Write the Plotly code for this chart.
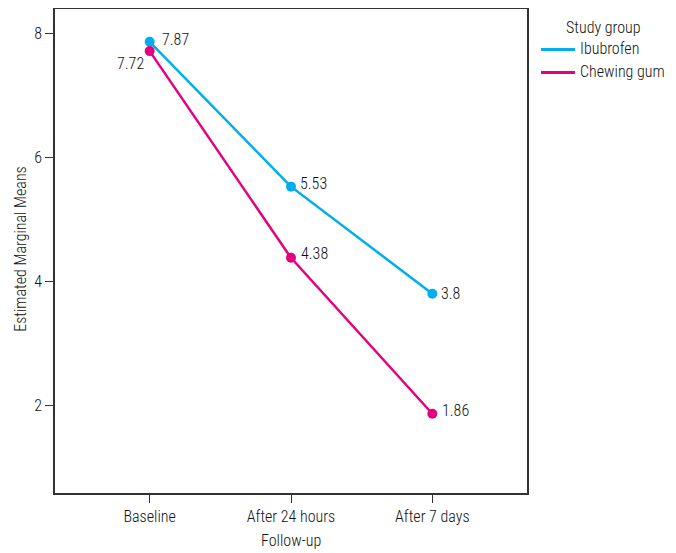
import plotly.graph_objects as go

categories = ["Baseline", "After 24 hours", "After 7 days"]
ibuprofen = [7.87, 5.53, 3.8]
chewing_gum = [7.72, 4.38, 1.86]
ibu_labels = ["7.87", "5.53", "3.8"]
gum_labels = ["7.72", "4.38", "1.86"]
y_ticks = [2, 4, 6, 8]
series_names = ["Ibubrofen", "Chewing gum"]

BLUE = "#00AEEF"
PINK = "#E5007E"
FONT = "Roboto Condensed, Liberation Sans Narrow, Arial Narrow, sans-serif"
TXT = "#111111"
FS = 16
FW = 300

def f():
    return dict(family=FONT, size=FS, color=TXT, weight=FW)

xs = list(range(len(categories)))

fig = go.Figure()
fig.add_trace(go.Scatter(
    x=xs, y=ibuprofen, mode="lines+markers", name=series_names[0],
    line=dict(color=BLUE, width=2.5), marker=dict(color=BLUE, size=10), showlegend=False))
fig.add_trace(go.Scatter(
    x=xs, y=chewing_gum, mode="lines+markers", name=series_names[1],
    line=dict(color=PINK, width=2.5), marker=dict(color=PINK, size=10), showlegend=False))

# page body has an 8px margin; screen coords are offset by OFF
OFF = 8
W, H = 676 - OFF, 553 - OFF
L, R, T, B = 54.5 - OFF, 527 - OFF, 8.5 - OFF, 493 - OFF
pw, ph = R - L, B - T
def px(x): return (x - OFF - L) / pw
def py(y): return (B - (y - OFF)) / ph

shapes = []
annotations = []

# data labels
ibu_shift = [(10, 2), (7, 3), (7, 0)]
gum_shift = [(-4, -12), (8, 4), (8, 3)]
for x, y, t, (dx, dy) in zip(xs, ibuprofen, ibu_labels, ibu_shift):
    annotations.append(dict(x=x, y=y, xref="x", yref="y", text=t, showarrow=False,
                            xanchor="left", yanchor="middle", xshift=dx, yshift=dy, font=f()))
for i, (x, y, t, (dx, dy)) in enumerate(zip(xs, chewing_gum, gum_labels, gum_shift)):
    annotations.append(dict(x=x, y=y, xref="x", yref="y", text=t, showarrow=False,
                            xanchor="right" if i == 0 else "left", yanchor="middle",
                            xshift=dx, yshift=dy, font=f()))

# axis titles
annotations.append(dict(x=0.5, y=py(541), xref="paper", yref="paper", text="Follow-up",
                        showarrow=False, xanchor="center", yanchor="middle", font=f()))
annotations.append(dict(x=px(20), y=py(249), xref="paper", yref="paper", text="Estimated Marginal Means",
                        showarrow=False, xanchor="center", yanchor="middle", textangle=-90, font=f()))

# legend
annotations.append(dict(x=px(604), y=py(27), xref="paper", yref="paper", text="Study group",
                        showarrow=False, xanchor="center", yanchor="middle", font=f()))
for i, (nm, col) in enumerate(zip(series_names, [BLUE, PINK])):
    yy = 49 + i * 23
    shapes.append(dict(type="line", xref="paper", yref="paper", x0=px(541), x1=px(575),
                       y0=py(yy), y1=py(yy), line=dict(color=col, width=3)))
    annotations.append(dict(x=px(578), y=py(yy - 1), xref="paper", yref="paper", text=nm,
                            showarrow=False, xanchor="left", yanchor="middle", font=f()))

fig.update_layout(
    width=W, height=H, margin=dict(l=L, r=W - R, t=T, b=H - B, pad=0, autoexpand=False),
    paper_bgcolor="white", plot_bgcolor="white",
    font=f(),
    shapes=shapes, annotations=annotations, showlegend=False,
    xaxis=dict(range=[-0.67, 2.67], tickvals=xs, ticktext=categories, showgrid=False,
               zeroline=False, showline=True, linecolor="#333333", linewidth=1.5, mirror=True,
               ticks="outside", ticklen=8, tickcolor="#333333", tickwidth=1.2, automargin=False,
               tickfont=f()),
    yaxis=dict(range=[0.58, 8.40], tickvals=y_ticks, showgrid=False, zeroline=False,
               showline=True, linecolor="#333333", linewidth=1.5, mirror=True,
               ticks="outside", ticklen=8, tickcolor="#333333", tickwidth=1.2, automargin=False,
               tickfont=f()),
)

fig.write_html("out.html")
